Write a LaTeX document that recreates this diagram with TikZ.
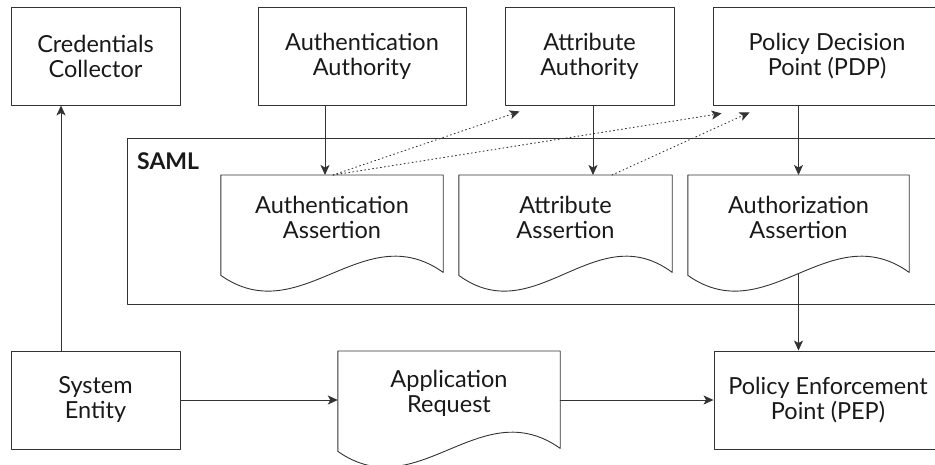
\documentclass[tikz,border=0pt]{standalone}
\usepackage{fontspec}
\setmainfont{Lato}
\usetikzlibrary{arrows.meta,calc}

\begin{document}
\begin{tikzpicture}[x=1pt,y=-1pt,line cap=round,line join=round,
  line/.style={draw=black!80,line width=.9pt},
  box/.style={line,align=center,text=black!90,inner sep=0pt,font=\fontsize{23.5}{25}\selectfont},
  doc/.style={align=center,text=black!90,inner sep=0pt,anchor=north,minimum height=84pt,font=\fontsize{23.5}{25}\selectfont},
  arr/.style={line,-{Stealth[length=10pt,width=9pt,inset=2.5pt]}},
  dots/.style={arr,dash pattern=on 1pt off 3pt}]
\path[use as bounding box] (0,0) rectangle (935,465);
\clip (0,0) rectangle (935,465);
% boxes
\node[box,minimum width=169pt,minimum height=98pt] (cred) at (95.5,56) {Credentials\\Collector};
\node[box,minimum width=208pt,minimum height=98pt] (authA) at (362,56) {Authentication\\Authority};
\node[box,minimum width=169pt,minimum height=98pt] (attrA) at (589.5,56) {Attribute\\Authority};
\node[box,minimum width=228pt,minimum height=98pt] (pdp) at (827,56) {Policy Decision\\Point (PDP)};
\node[box,minimum width=169pt,minimum height=98pt] (sys) at (95.5,400) {System\\Entity};
\node[box,minimum width=228pt,minimum height=98pt] (pep) at (828,400) {Policy Enforcement\\Point (PEP)};
% SAML frame
\node[line,inner sep=0pt,minimum width=830pt,minimum height=166pt,anchor=north west] (saml) at (127,138) {};
\node[text=black!90,inner sep=0pt,anchor=north west,font=\fontsize{23}{25}\selectfont\bfseries] (samlLbl) at (137,152) {SAML};
% documents
\node[doc,minimum width=222pt] (authAs) at (332,175) {Authentication\\Assertion};
\node[doc,minimum width=213pt] (attrAs) at (565.5,175) {Attribute\\Assertion};
\node[doc,minimum width=221pt] (authzAs) at (798.5,175) {Authorization\\Assertion};
\node[doc,minimum width=222pt] (appReq) at (449,351) {Application\\Request};
\foreach \d in {authAs,attrAs,authzAs,appReq}
  \draw[line] (\d.north west) -- ([yshift=-16pt]\d.south west)
    .. controls ([yshift=-72pt]$(\d.south west)!.36!(\d.south east)$) and ([yshift=44pt]$(\d.south west)!.64!(\d.south east)$) .. ([yshift=-13pt]\d.south east)
    -- (\d.north east) -- cycle;
% arrows
\draw[arr] ([xshift=-34.5pt]sys.north) -- ([xshift=-34.5pt]cred.south);
\draw[arr] (sys.east) -- (sys.east -| appReq.west);
\draw[arr] (appReq.east |- pep.west) -- (pep.west);
\draw[arr] ([xshift=-37pt]authA.south) -- ([xshift=-7pt]authAs.north);
\draw[arr] ([xshift=3.5pt]attrA.south) -- ([xshift=27.5pt]attrAs.north);
\draw[arr] (pdp.south -| authzAs.north) -- (authzAs.north);
\draw[arr] ([yshift=-14pt]authzAs.south) -- (authzAs.south |- pep.north);
% dotted links
\draw[dots] ([xshift=1pt]authAs.north) -- ([xshift=15pt,yshift=-6pt]attrA.south west);
\draw[dots] ([xshift=1pt]authAs.north) -- ([xshift=9pt,yshift=-8pt]pdp.south west);
\draw[dots] ([xshift=46.5pt]attrAs.north) -- ([xshift=37pt,yshift=-7pt]pdp.south west);
\end{tikzpicture}
\end{document}
